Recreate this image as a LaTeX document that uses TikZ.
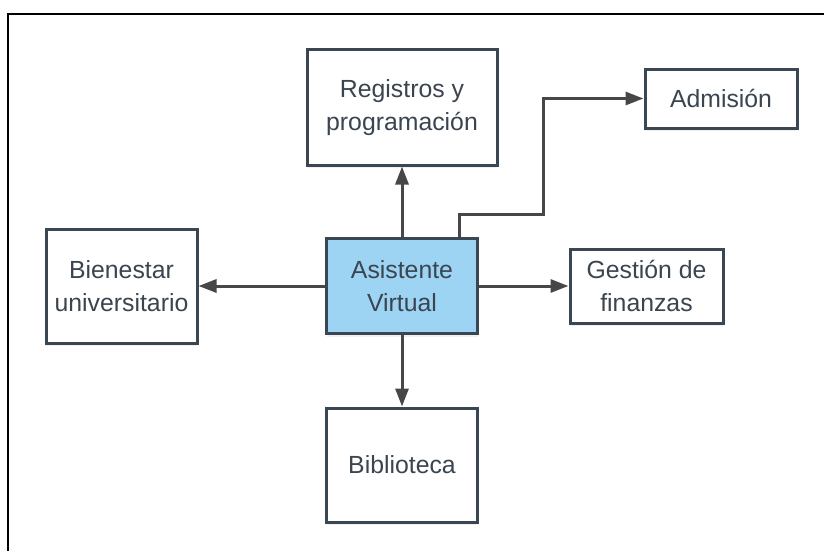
\documentclass[tikz,border=0pt]{standalone}
\usepackage{fontspec}
\setmainfont{Liberation Sans}
\usepackage{tikz}
\usetikzlibrary{arrows.meta,shadows}

\definecolor{boxline}{HTML}{3A4651}
\definecolor{boxtext}{HTML}{3A4550}
\definecolor{boxblue}{HTML}{9DD3F3}
\definecolor{arrowgray}{HTML}{474747}

\begin{document}
\begin{tikzpicture}[x=1pt,y=-1pt]
				\tikzstyle{b}=[draw=boxline, line width=3pt, fill=white, text=boxtext,
					align=center, inner sep=0pt, font=\fontsize{24.8}{33}\selectfont,
					drop shadow={opacity=0.12, shadow xshift=0pt, shadow yshift=-3pt}]
				\tikzstyle{hub}=[fill=boxblue]
				\tikzstyle{a}=[draw=arrowgray, line width=3pt,
					-{Triangle[length=18pt,width=13pt]}]

				\useasboundingbox (0,0) rectangle (824,551);
				\draw[line width=2pt] (8,551) |- (824,14);

				\node[b, minimum width=190pt, minimum height=115pt] (reg) at (402, 107.5) {Registros y\\programación};
				\node[b, minimum width=152pt, minimum height=59pt] (adm) at (721, 98.5) {Admisión};
				\node[b, minimum width=151pt, minimum height=114pt] (bien) at (121.5, 286) {Bienestar\\universitario};
				\node[b, minimum width=153pt, minimum height=74pt] (gest) at (646.5, 286) {Gestión de\\finanzas};
				\node[b, minimum width=151pt, minimum height=114pt] (bibl) at (402, 465) {Biblioteca};
				\node[b, hub, minimum width=151pt, minimum height=95pt] (asis) at (402, 286) {Asistente\\Virtual};

				\coordinate (knee) at (543, 214);

				\foreach \from/\to in {asis/reg,asis/bien,asis/gest,asis/bibl}
				\draw [a] (\from) -- (\to);
				\draw [a] ([xshift=57pt]asis.north) |- (knee) |- (adm.west);
			\end{tikzpicture}
\end{document}
